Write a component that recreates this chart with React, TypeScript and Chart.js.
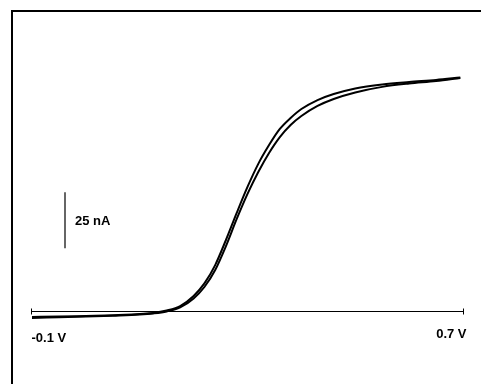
import React, { useEffect, useRef } from "react";
import { Chart, registerables } from "chart.js";

Chart.register(...registerables);

// Potential (V)
const voltage = [-0.1, -0.05, 0, 0.05, 0.1, 0.125, 0.15, 0.175, 0.2, 0.22, 0.24, 0.26, 0.28, 0.3, 0.32, 0.34, 0.36, 0.38, 0.4, 0.43, 0.46, 0.5, 0.55, 0.6, 0.65, 0.695];
// Current (nA), upper / left trace
const reverseCurrent = [-2.7, -2.5, -2.2, -1.9, -1.3, -0.9, 0.2, 2.2, 6.7, 12.3, 20.5, 31.7, 43.8, 55.4, 65.7, 74.1, 81.3, 86.2, 90.2, 94.2, 96.9, 99.4, 101.2, 102.3, 103.2, 104.3];
// Current (nA), lower / right trace
const forwardCurrent = [-3.1, -2.8, -2.5, -2.1, -1.6, -1.1, -0.2, 1.6, 5.6, 10.7, 18.3, 29.0, 41.1, 52.3, 62.1, 70.6, 77.7, 83.1, 87.1, 91.6, 94.7, 97.6, 100.1, 101.6, 102.7, 104.1];

const xRange = [-0.1, 0.7];
const yRange = [-8.5, 125.5];
const xTickLabels = ["-0.1 V", "0.7 V"];
const scaleBarLabel = "25 nA";
const scaleBarPotential = -0.039;
const scaleBarCurrent = [28, 53];

const decorPlugin = {
  id: "decor",
  afterDraw(chart: any) {
    const ctx = chart.ctx;
    const xs = chart.scales.x;
    const ys = chart.scales.y;
    ctx.save();
    // frame (top + left)
    ctx.fillStyle = "#000";
    ctx.fillRect(11, 10, 470, 2);
    ctx.fillRect(11, 10, 2, 374);

    // potential axis
    const y0 = Math.round(ys.getPixelForValue(0)) + 0.5;
    const xa = Math.round(xs.getPixelForValue(xRange[0])) - 0.5;
    const xb = Math.round(xs.getPixelForValue(xRange[1])) + 0.5;
    ctx.strokeStyle = "#000";
    ctx.lineWidth = 1;
    ctx.beginPath();
    ctx.moveTo(xa, y0);
    ctx.lineTo(xb, y0);
    ctx.moveTo(xa, y0 - 3);
    ctx.lineTo(xa, y0 + 3);
    ctx.moveTo(xb, y0 - 3);
    ctx.lineTo(xb, y0 + 3);
    ctx.stroke();

    // axis labels
    ctx.fillStyle = "#000";
    ctx.font = "bold 13px 'Liberation Sans', Arial, sans-serif";
    ctx.textBaseline = "alphabetic";
    ctx.textAlign = "left";
    ctx.fillText(xTickLabels[0], xa, y0 + 30);
    ctx.textAlign = "right";
    ctx.fillText(xTickLabels[1], xb + 3, y0 + 26);

    // current scale bar
    const sx = Math.round(xs.getPixelForValue(scaleBarPotential));
    const sy1 = ys.getPixelForValue(scaleBarCurrent[0]);
    const sy2 = ys.getPixelForValue(scaleBarCurrent[1]);
    ctx.strokeStyle = "#666";
    ctx.lineWidth = 2;
    ctx.beginPath();
    ctx.moveTo(sx, sy1);
    ctx.lineTo(sx, sy2);
    ctx.stroke();
    ctx.textAlign = "left";
    ctx.fillStyle = "#000";
    ctx.fillText(scaleBarLabel, sx + 10, (sy1 + sy2) / 2 + 5);
    ctx.restore();
  },
};

export default function App() {
  const ref = useRef<HTMLCanvasElement>(null);
  useEffect(() => {
    if (!ref.current) return;
    const chart = new Chart(ref.current, {
      type: "line",
      data: {
        datasets: [
          {
            data: voltage.map((v, i) => ({ x: v, y: reverseCurrent[i] })),
            borderColor: "#000",
            borderWidth: 2,
            pointRadius: 0,
            cubicInterpolationMode: "monotone",
          },
          {
            data: voltage.map((v, i) => ({ x: v, y: forwardCurrent[i] })),
            borderColor: "#000",
            borderWidth: 2,
            pointRadius: 0,
            cubicInterpolationMode: "monotone",
          },
        ],
      },
      options: {
        animation: false,
        responsive: false,
        layout: { padding: { left: 32, right: 18, top: 30, bottom: 54 } },
        plugins: { legend: { display: false }, tooltip: { enabled: false } },
        scales: {
          x: { type: "linear", min: xRange[0], max: xRange[1], display: false },
          y: { type: "linear", min: yRange[0], max: yRange[1], display: false },
        },
      },
      plugins: [decorPlugin],
    });
    return () => chart.destroy();
  }, []);
  return (
    <div style={{ position: "fixed", left: 0, top: 0, width: 481, height: 384, background: "#fff" }}>
      <canvas ref={ref} width={481} height={384} />
    </div>
  );
}
